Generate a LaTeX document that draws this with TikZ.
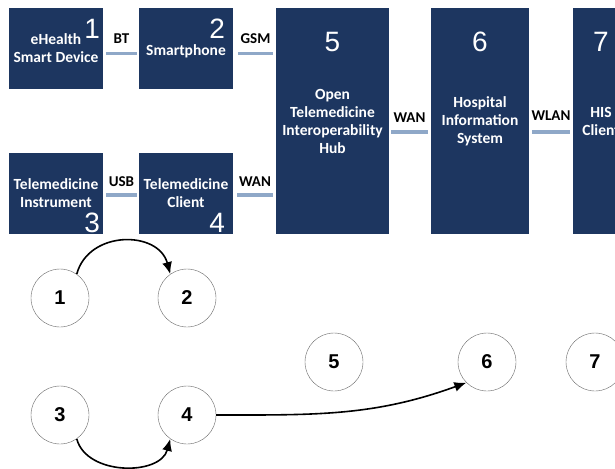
\documentclass[tikz,border=0pt]{standalone}
\usepackage{fontspec}
\setmainfont{Carlito}
\newfontfamily\numfont{Liberation Sans}
\usetikzlibrary{arrows.meta,positioning}

\definecolor{boxblue}{HTML}{1D3660}
\definecolor{linkblue}{HTML}{8FA8C8}

\tikzset{
  unit/.style={fill=boxblue, text=white, font=\bfseries\fontsize{15.5}{18}\selectfont,
    align=center, inner sep=0pt, minimum width=94pt, minimum height=81pt},
  tower/.style={unit, minimum height=226pt},
  bignum/.style={text=white, font=\numfont\fontsize{28}{28}\selectfont, inner sep=0pt},
  link/.style={linkblue, line width=3.5pt},
  lbl/.style={text=black, font=\bfseries\fontsize{15}{15}\selectfont, inner sep=0pt},
  state/.style={circle, draw=black!60, minimum size=58pt, inner sep=0pt,
    font=\numfont\bfseries\fontsize{20}{20}\selectfont},
  flow/.style={-{Latex[length=12pt,width=10pt]}, line width=1.6pt},
}

\begin{document}
\begin{tikzpicture}[x=1pt,y=1pt]
  \useasboundingbox (0,0) rectangle (615,-468);
  \clip (0,0) rectangle (615,-468);

  % Devices and systems
  \node[unit] (b1) at (56,-48.5) {eHealth\\Smart Device};
  \node[unit] (b2) at (186,-48.5) {\\[-2pt]Smartphone};
  \node[unit] (b3) at (56,-193.5) {Telemedicine\\Instrument};
  \node[unit] (b4) at (186,-193.5) {Telemedicine\\Client};
  \node[tower, minimum width=113pt] (b5) at (332.5,-121)
    {Open\\Telemedicine\\Interoperability\\Hub};
  \node[tower, minimum width=98pt] (b6) at (480,-121) {Hospital\\Information\\System};
  \node[tower, minimum width=56pt] (b7) at (601,-121) {HIS\\Client};

  % Numbers on the boxes
  \node[bignum] (n1) at ([shift={(-11,-21)}]b1.north east) {1};
  \node[bignum] (n2) at ([shift={(-16,-21)}]b2.north east) {2};
  \node[bignum] (n3) at ([shift={(-11,11)}]b3.south east) {3};
  \node[bignum] (n4) at ([shift={(-16,11)}]b4.south east) {4};
  \node[bignum] (n5) at ([yshift=-34pt]b5.north) {5};
  \node[bignum] (n6) at ([yshift=-34pt]b6.north) {6};
  \node[bignum] (n7) at ([yshift=-34pt]b7.north) {7};

  % Links between the boxes
  \draw[link] ([xshift=3pt,yshift=-5pt]b1.east) -- node[lbl,above=8pt] {BT}
    ([xshift=-2pt,yshift=-5pt]b2.west);
  \draw[link] ([xshift=5pt,yshift=-5pt]b2.east) -- node[lbl,above=8pt] {GSM}
    ([xshift=-3pt,yshift=-5pt]b2.east -| b5.west);
  \draw[link] ([xshift=3pt,yshift=-1.5pt]b3.east) -- node[lbl,above=7pt] {USB}
    ([xshift=-2pt,yshift=-1.5pt]b4.west);
  \draw[link] ([xshift=4pt,yshift=-1.5pt]b4.east) -- node[lbl,above=7pt] {WAN}
    ([xshift=-3pt,yshift=-1.5pt]b4.east -| b5.west);
  \draw[link] ([xshift=2pt,yshift=-11pt]b5.east) -- node[lbl,above=7.5pt] {WAN}
    ([xshift=-3pt,yshift=-11pt]b6.west);
  \draw[link] ([xshift=3pt,yshift=-11pt]b6.east) -- node[lbl,above=9.5pt] {WLAN}
    ([xshift=-3pt,yshift=-11pt]b7.west);

  % States
  \node[state] (c1) at (60,-298) {1};
  \node[state] (c2) at (187,-298) {2};
  \node[state] (c3) at (60,-415) {3};
  \node[state] (c4) at (187,-415) {4};
  \node[state] (c5) at (334,-362) {5};
  \node[state] (c6) at (487,-362) {6};
  \node[state] (c7) at (595,-362) {7};

  % Transitions
  \draw[flow] (c1.55) to[out=75,in=105,looseness=1.25] (c2.125);
  \draw[flow] (c3.-55) to[out=-75,in=-105,looseness=1.05] (c4.-125);
  \draw[flow] (c4.east) to[out=0,in=200] (c6.225);
\end{tikzpicture}
\end{document}
